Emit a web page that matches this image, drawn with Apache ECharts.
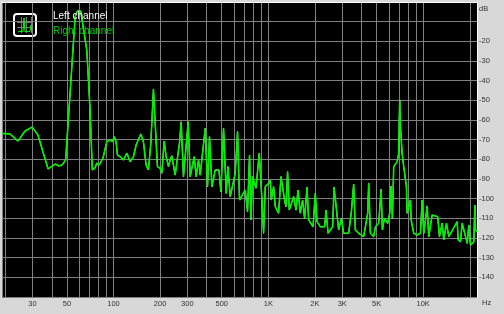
<!DOCTYPE html>
<html><head><meta charset="utf-8">
<script src="https://cdn.jsdelivr.net/npm/echarts@6/dist/echarts.min.js"></script>
<style>html,body{margin:0;padding:0;background:#d8d8d8;}#c{width:504px;height:314px;}</style>
</head><body><div id="c"></div>
<script>
// Frequencies (Hz) and levels (dB)
const freqHz = [19.0,21.4,24.2,26.8,29.8,32.5,37.8,41.9,44.5,46.5,49.1,
56.5,58.4,61.4,62.4,67.2,70.6,
73.0,76.0,78.0,80.7,85.6,90.5,92.7,95.1,98.4,101.3,
103.9,106.0,110.3,115.9,121.9,128.0,134.5,140.0,150.1,156.0,162.4,168.1,174.2,
181.1,192.2,200.1,205.2,212.4,218.8,226.4,232.2,238.1,250.1,
266.7,273.5,283.0,303.6,312.8,332.0,342.0,354.0,363.0,391.1,
404.7,416.9,432.1,453.8,479.5,494.0,513.5,534.6,548.3,567.4,
611.0,632.4,651.5,709.2,733.9,756.1,772.0,790.6,831.6,873.5,
909.4,931.3,955.1,1003,1029,1044,1081,1109,1164,1207,
1273,1300,1331,1365,1456,1509,1554,1608,1664,1715,
1777,1820,1943,2011,2062,2166,2310,2358,2430,2602,
2656,2845,2962,3065,3301,3437,3556,3647,3831,4127,
4380,4446,4560,4790,4913,5160,5347,5452,5616,5899,
6077,6205,6327,6451,6786,6950,7001,7054,7106,7202,
7310,7487,7794,7875,8272,8359,8689,9139,9600,9846,
10084,10608,10864,11428,12418,12736,13258,13578,14140,14632,
16574,16824,17410,17856,19238,19702,20206,21226,21544,21770,22250];
const rightDb = [-66.8,-67.1,-70.7,-65.6,-63.6,-67.6,-84.9,-82.4,-83.4,-82.9,-80.3,
-7.6,-4.6,-4.6,-5.6,-24.4,-54.9,
-85.4,-84.4,-81.9,-82.9,-79.3,-71.0,-71.7,-70.2,-71.0,-68.5,
-71.0,-77.8,-78.7,-80.3,-76.9,-81.2,-78.7,-72.7,-67.1,-71.0,-82.9,-85.4,-71.8,
-44.4,-83.7,-84.6,-87.1,-70.7,-78.7,-83.7,-80.3,-78.2,-88.0,
-71.8,-60.9,-88.8,-60.9,-88.8,-78.7,-88.8,-80.3,-88.0,-64.2,
-93.9,-68.5,-93.9,-85.4,-85.4,-96.5,-64.2,-97.3,-83.7,-99.0,
-87.1,-65.9,-100.7,-95.6,-106.6,-77.8,-110.8,-88.8,-94.7,-76.9,
-100.7,-117.6,-93.9,-92.2,-90.5,-100.7,-93.9,-104.1,-107.4,-88.8,
-100.7,-104.1,-86.3,-105.8,-99.0,-105.8,-95.6,-107.4,-100.7,-110.0,
-94.2,-110.8,-114.3,-97.3,-111.7,-114.3,-114.3,-105.8,-117.6,-114.3,
-94.2,-115.9,-110.0,-117.6,-117.6,-106.6,-92.7,-115.9,-117.6,-119.3,
-107.4,-92.2,-117.6,-119.3,-114.3,-112.5,-95.2,-115.9,-110.0,-112.5,
-107.4,-93.6,-110.0,-83.7,-81.2,-76.9,-61.4,-49.8,-61.4,-61.4,
-76.9,-83.7,-93.9,-107.4,-100.7,-110.8,-117.6,-118.5,-117.6,-100.7,
-117.6,-103.7,-119.3,-108.3,-109.2,-119.3,-112.5,-121.0,-112.5,-119.3,
-111.7,-121.0,-121.9,-112.5,-122.7,-113.4,-123.6,-121.9,-103.2,-115.9,-116.8];
// Left channel reads the same as right at this resolution (hidden beneath it)
const leftDb = rightDb.slice();

const gridFreqs = [20,30,40,50,60,70,80,90,100,200,300,400,500,600,700,800,900,
  1000,2000,3000,4000,5000,6000,7000,8000,9000,10000,20000];
const labelFreqs = [30,50,100,200,300,500,1000,2000,3000,5000,10000];
const fMin = 19.05, fMax = 22260;
const dbMin = -150, dbMax = 0, dbStep = 10;
const xUnit = 'Hz', yUnit = 'dB';

const lg = v => Math.log10(v);
const toPts = arr => freqHz.map((f, i) => [lg(f), arr[i]]);
const fmtHz = v => {
  const f = Math.round(Math.pow(10, v));
  return f >= 1000 ? (f / 1000) + 'K' : String(f);
};

const chart = echarts.init(document.getElementById('c'), null, {renderer: 'canvas'});
const txt = '#333333';
const unitStyle = {fill: txt, fontSize: 7.5, fontFamily: 'Liberation Sans'};
chart.setOption({
  animation: false,
  backgroundColor: '#d8d8d8',
  grid: {left: 2, top: 2, right: 27, bottom: 17, show: true, backgroundColor: '#000', borderWidth: 0},
  legend: {
    orient: 'vertical', left: 47, top: 11, itemWidth: 0, itemHeight: 0, itemGap: 5.5,
    padding: 0, selectedMode: false,
    textStyle: {fontFamily: 'Liberation Sans', fontSize: 10},
    data: [
      {name: 'Left channel', textStyle: {color: '#ffffff'}},
      {name: 'Right channel', textStyle: {color: '#00cc00'}}
    ]
  },
  xAxis: {
    type: 'value', min: lg(fMin), max: lg(fMax),
    axisLine: {show: true, lineStyle: {color: '#ffffff', width: 1}},
    axisTick: {show: false, customValues: [lg(fMin)].concat(gridFreqs.map(lg))},
    axisLabel: {customValues: labelFreqs.map(lg), formatter: fmtHz, color: txt, fontSize: 7.5,
      fontFamily: 'Liberation Sans', margin: 3},
    splitLine: {show: true, lineStyle: {color: '#808080', width: 1}}
  },
  yAxis: {
    type: 'value', position: 'right', min: dbMin, max: dbMax, interval: dbStep,
    axisLine: {show: true, lineStyle: {color: '#ffffff', width: 1}},
    axisTick: {show: false},
    axisLabel: {color: txt, fontSize: 7.5, fontFamily: 'Liberation Sans', margin: 2,
      formatter: v => (v <= -20 && v >= -140) ? String(v) : ''},
    splitLine: {show: true, lineStyle: {color: '#808080', width: 1}}
  },
  graphic: [
    {type: 'text', left: 479, top: 5, style: Object.assign({text: yUnit}, unitStyle)},
    {type: 'text', left: 482, top: 299, style: Object.assign({text: xUnit}, unitStyle)},
    {
    type: 'group', left: 13, top: 13,
    children: [
      {type: 'rect', shape: {x: 0, y: 0, width: 22, height: 22, r: 3}, style: {fill: '#000', stroke: '#fff', lineWidth: 2}},
      {type: 'line', shape: {x1: 7.5, y1: 3, x2: 7.5, y2: 19}, style: {stroke: '#777', lineWidth: 1}},
      {type: 'line', shape: {x1: 12.5, y1: 3, x2: 12.5, y2: 19}, style: {stroke: '#777', lineWidth: 1}},
      {type: 'line', shape: {x1: 17.5, y1: 3, x2: 17.5, y2: 19}, style: {stroke: '#777', lineWidth: 1}},
      {type: 'line', shape: {x1: 3, y1: 8.5, x2: 19, y2: 8.5}, style: {stroke: '#777', lineWidth: 1}},
      {type: 'line', shape: {x1: 3, y1: 13.5, x2: 19, y2: 13.5}, style: {stroke: '#777', lineWidth: 1}},
      {type: 'polyline', shape: {points: [[4,18],[6,17],[7,18],[9,17],[10,4],[11,18],[13,17],[15,18],[16,17],[17,11],[18,18],[19,17]]},
        style: {stroke: '#00ff00', lineWidth: 1, fill: null}}
    ]
  }],
  series: [
    {name: 'Left channel', type: 'line', data: toPts(leftDb), showSymbol: false, symbol: 'none',
      lineStyle: {color: '#ffffff', width: 1}, itemStyle: {color: '#ffffff'}},
    {name: 'Right channel', type: 'line', data: toPts(rightDb), showSymbol: false, symbol: 'none',
      lineStyle: {color: '#00f000', width: 1.6}, itemStyle: {color: '#00f000'}}
  ]
});
</script></body></html>
